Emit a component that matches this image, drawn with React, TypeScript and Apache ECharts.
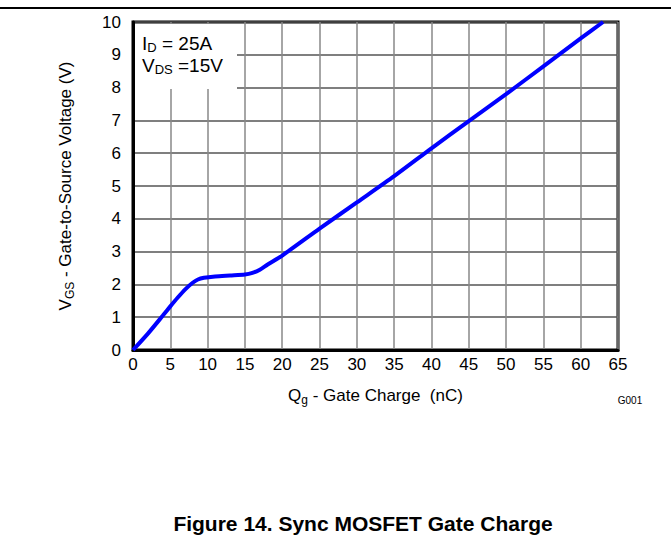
import React, { useEffect, useRef } from "react";
import * as echarts from "echarts";

const gateCharge = [0, 2, 4, 5, 6, 7, 8, 8.7, 9.5, 11, 13, 15, 16, 17, 18, 20, 25, 30, 35, 40, 45, 50, 55, 60, 63];
const vgs = [0, 0.5, 1.05, 1.33, 1.6, 1.85, 2.05, 2.15, 2.2, 2.24, 2.27, 2.3, 2.35, 2.45, 2.6, 2.88, 3.7, 4.5, 5.3, 6.15, 6.98, 7.8, 8.65, 9.5, 10];
const xTicks = { min: 0, max: 65, interval: 5 };
const yTicks = { min: 0, max: 10, interval: 1 };

const FONT = "'Liberation Sans', Arial, sans-serif";

function measure(text: string, size: number): number {
  const ctx = document.createElement("canvas").getContext("2d");
  if (!ctx) return text.length * size * 0.55;
  ctx.font = `${size}px ${FONT}`;
  return ctx.measureText(text).width;
}

export default function App() {
  const ref = useRef<HTMLDivElement>(null);
  useEffect(() => {
    document.body.style.margin = "0";
    const chart = echarts.init(ref.current!, null, { renderer: "svg" });
    const data = gateCharge.map((q, i) => [q, vgs[i]]);
    chart.setOption({
      animation: false,
      grid: {
        left: 133,
        top: 22,
        right: 53,
        bottom: 194,
        show: true,
        borderColor: "#000",
        borderWidth: 3,
        backgroundColor: "#fff",
      },
      xAxis: {
        type: "value",
        min: xTicks.min,
        max: xTicks.max,
        interval: xTicks.interval,
        axisLine: { show: true, lineStyle: { color: "#000", width: 3 } },
        axisTick: { show: false },
        axisLabel: { color: "#000", fontSize: 17, fontFamily: FONT, margin: 6 },
        splitLine: { show: true, lineStyle: { color: "#888", width: 1.5 } },
        name: "{v|Q}{s|g}{v| - Gate Charge  (nC)}",
        nameLocation: "middle",
        nameGap: 35,
        nameTextStyle: {
          rich: {
            v: { fontSize: 17, fontFamily: FONT, color: "#000" },
            s: { fontSize: 12, fontFamily: FONT, color: "#000", padding: [9, 0, 0, 0] },
          },
        },
      },
      yAxis: {
        type: "value",
        min: yTicks.min,
        max: yTicks.max,
        interval: yTicks.interval,
        axisLine: { show: true, lineStyle: { color: "#000", width: 3 } },
        axisTick: { show: false },
        axisLabel: { color: "#000", fontSize: 17, fontFamily: FONT, margin: 12 },
        splitLine: { show: true, lineStyle: { color: "#555", width: 1.5 } },
        name: "{v|V}{s|GS}{v| - Gate-to-Source Voltage (V)}",
        nameLocation: "middle",
        nameGap: 57,
        nameTextStyle: {
          rich: {
            v: { fontSize: 17, fontFamily: FONT, color: "#000" },
            s: { fontSize: 12, fontFamily: FONT, color: "#000", padding: [9, 0, 0, 0] },
          },
        },
      },
      series: [
        {
          type: "line",
          data,
          smooth: 0.25,
          showSymbol: false,
          lineStyle: { color: "#0000ff", width: 4 },
          z: 3,
        },
      ],
    });

    const [x0, y10] = chart.convertToPixel({ gridIndex: 0 }, [0, 10]) as number[];
    const [, y8] = chart.convertToPixel({ gridIndex: 0 }, [0, 8]) as number[];
    const boxRight = 237;
    const mainSize = 19;
    const subSize = 13;
    const annX = 142;
    const annLine = (main: string, sub: string, rest: string, y: number) => {
      const w1 = measure(main, mainSize);
      const w2 = measure(sub, subSize);
      const base = { fontFamily: FONT, fill: "#000", verticalAlign: "middle" };
      return [
        { type: "text", z: 6, x: annX, y, style: { ...base, text: main, fontSize: mainSize } },
        { type: "text", z: 6, x: annX + w1, y: y + 4, style: { ...base, text: sub, fontSize: subSize } },
        { type: "text", z: 6, x: annX + w1 + w2, y, style: { ...base, text: rest, fontSize: mainSize } },
      ];
    };
    chart.setOption({
      graphic: [
        {
          type: "rect",
          z: 5,
          shape: { x: x0 + 2, y: y10 + 2, width: boxRight - x0 - 2, height: y8 + 1.5 - y10 - 2 },
          style: { fill: "#fff" },
        },
        ...annLine("I", "D", " = 25A", 43),
        ...annLine("V", "DS", " =15V", 65),
        {
          type: "text",
          x: 630,
          y: 400,
          style: { text: "G001", fontSize: 10, fontFamily: FONT, fill: "#000", align: "center", verticalAlign: "middle" },
        },
        {
          type: "line",
          shape: { x1: 0, y1: 8, x2: 671, y2: 8 },
          style: { stroke: "#000", lineWidth: 2 },
        },
        {
          type: "text",
          x: 363,
          y: 523,
          style: {
            text: "Figure 14. Sync MOSFET Gate Charge",
            fontSize: 21,
            fontWeight: "bold",
            fontFamily: FONT,
            fill: "#000",
            align: "center",
            verticalAlign: "middle",
          },
        },
      ],
    });
    return () => chart.dispose();
  }, []);
  return <div ref={ref} style={{ position: "fixed", left: 0, top: 0, width: 671, height: 544, background: "#fff" }} />;
}
